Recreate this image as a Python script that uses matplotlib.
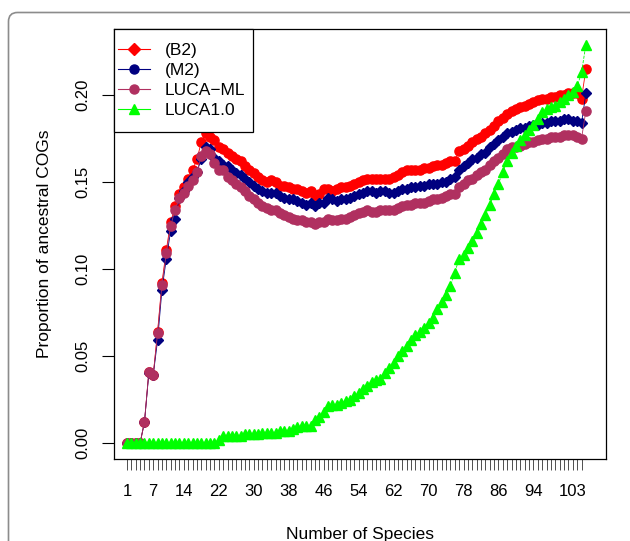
import numpy as np
import matplotlib.pyplot as plt
from matplotlib.lines import Line2D
from matplotlib.patches import FancyBboxPatch, Rectangle
from matplotlib.transforms import IdentityTransform

plt.rcParams['font.family'] = ['Liberation Sans', 'DejaVu Sans']

# --- data (species 1..106) ---
species = np.arange(1, 107)

b2 = [0.000, 0.000, 0.000, 0.000, 0.012, 0.041, 0.039, 0.064, 0.092, 0.111,
      0.127, 0.136, 0.143, 0.147, 0.152, 0.157, 0.163, 0.173, 0.178, 0.176,
      0.174, 0.170, 0.169, 0.167, 0.165, 0.163, 0.162, 0.159, 0.157, 0.155,
      0.153, 0.151, 0.150, 0.151, 0.150, 0.148, 0.148, 0.147, 0.146, 0.146,
      0.145, 0.144, 0.145, 0.142, 0.143, 0.146, 0.146, 0.145, 0.146, 0.147,
      0.147, 0.148, 0.149, 0.150, 0.151, 0.152, 0.152, 0.152, 0.152, 0.152,
      0.152, 0.153, 0.154, 0.156, 0.157, 0.157, 0.157, 0.157, 0.158, 0.158,
      0.159, 0.160, 0.160, 0.161, 0.162, 0.162, 0.168, 0.169, 0.171, 0.173,
      0.175, 0.176, 0.178, 0.180, 0.182, 0.185, 0.187, 0.189, 0.191, 0.192,
      0.193, 0.194, 0.195, 0.196, 0.197, 0.198, 0.198, 0.199, 0.199, 0.200,
      0.200, 0.201, 0.201, 0.201, 0.198, 0.215]

m2 = [0.000, 0.000, 0.000, 0.000, 0.012, 0.040, 0.039, 0.059, 0.088, 0.106,
      0.122, 0.129, 0.141, 0.145, 0.150, 0.153, 0.156, 0.163, 0.170, 0.169,
      0.164, 0.162, 0.160, 0.159, 0.157, 0.155, 0.154, 0.152, 0.150, 0.148,
      0.146, 0.145, 0.144, 0.144, 0.144, 0.142, 0.141, 0.140, 0.140, 0.139,
      0.138, 0.137, 0.138, 0.136, 0.138, 0.138, 0.141, 0.140, 0.139, 0.140,
      0.140, 0.141, 0.142, 0.143, 0.144, 0.145, 0.145, 0.144, 0.145, 0.145,
      0.144, 0.144, 0.145, 0.146, 0.146, 0.147, 0.147, 0.148, 0.148, 0.149,
      0.149, 0.149, 0.150, 0.150, 0.152, 0.153, 0.157, 0.159, 0.161, 0.163,
      0.164, 0.166, 0.167, 0.170, 0.172, 0.174, 0.176, 0.178, 0.179, 0.180,
      0.181, 0.181, 0.182, 0.183, 0.183, 0.184, 0.184, 0.185, 0.185, 0.185,
      0.186, 0.186, 0.185, 0.185, 0.184, 0.201]

luca_ml = [0.000, 0.000, 0.000, 0.000, 0.012, 0.041, 0.039, 0.063, 0.091, 0.109,
           0.125, 0.134, 0.141, 0.144, 0.148, 0.151, 0.156, 0.165, 0.168, 0.166,
           0.161, 0.157, 0.157, 0.153, 0.151, 0.149, 0.147, 0.145, 0.142, 0.140,
           0.138, 0.136, 0.135, 0.134, 0.134, 0.132, 0.131, 0.130, 0.129, 0.128,
           0.128, 0.127, 0.127, 0.126, 0.127, 0.127, 0.129, 0.128, 0.128, 0.129,
           0.129, 0.130, 0.131, 0.132, 0.133, 0.134, 0.133, 0.133, 0.134, 0.134,
           0.134, 0.134, 0.135, 0.136, 0.137, 0.137, 0.138, 0.138, 0.138, 0.139,
           0.140, 0.140, 0.141, 0.142, 0.143, 0.143, 0.147, 0.149, 0.151, 0.152,
           0.154, 0.156, 0.157, 0.160, 0.162, 0.164, 0.166, 0.169, 0.170, 0.170,
           0.171, 0.172, 0.173, 0.173, 0.174, 0.175, 0.175, 0.176, 0.176, 0.176,
           0.177, 0.177, 0.177, 0.176, 0.175, 0.191]

luca10 = [0.000, 0.000, 0.000, 0.000, 0.000, 0.000, 0.000, 0.000, 0.000, 0.000,
          0.000, 0.000, 0.000, 0.000, 0.000, 0.000, 0.000, 0.000, 0.000, 0.000,
          0.000, 0.002, 0.004, 0.004, 0.004, 0.004, 0.004, 0.005, 0.005, 0.005,
          0.005, 0.006, 0.006, 0.006, 0.006, 0.007, 0.007, 0.007, 0.008, 0.009,
          0.010, 0.010, 0.010, 0.013, 0.015, 0.018, 0.021, 0.022, 0.022, 0.023,
          0.024, 0.025, 0.027, 0.029, 0.031, 0.033, 0.035, 0.036, 0.037, 0.040,
          0.043, 0.046, 0.050, 0.053, 0.056, 0.059, 0.062, 0.064, 0.066, 0.069,
          0.072, 0.077, 0.081, 0.085, 0.090, 0.098, 0.106, 0.108, 0.112, 0.116,
          0.121, 0.126, 0.131, 0.137, 0.143, 0.149, 0.156, 0.162, 0.167, 0.171,
          0.174, 0.177, 0.180, 0.183, 0.186, 0.190, 0.192, 0.193, 0.194, 0.196,
          0.198, 0.200, 0.202, 0.205, 0.213, 0.229]

xtick_pos = np.arange(1, 106)
xtick_shown = [1, 7, 14, 22, 30, 38, 46, 54, 62, 70, 78, 86, 94, 103]
yticks = [0.00, 0.05, 0.10, 0.15, 0.20]

fig = plt.figure(figsize=(6.3, 5.41), dpi=100)

# rounded frame of the journal figure
frame = FancyBboxPatch((8.5, -30), 660, 541 - 12.5 + 30,
                       boxstyle='round,pad=0,rounding_size=9',
                       transform=IdentityTransform(), facecolor='none',
                       edgecolor='#8c8c8c', linewidth=1.2)
fig.add_artist(frame)

ax = fig.add_axes([114 / 630, 1 - 459 / 541, 492 / 630, 430 / 541])

ax.plot(species, b2, color='#FF0000', lw=0.6, marker='o', ms=6.6,
        mec='#FF0000', mfc='#FF0000')
ax.plot(species, m2, color='#000080', lw=0.6, marker='D', ms=5.2,
        mec='#000080', mfc='#000080')
ax.plot(species, luca_ml, color='#B03060', lw=0.6, marker='o', ms=6.6,
        mec='#B03060', mfc='#B03060')
ax.plot(species, luca10, color='#00FF00', lw=0.6, ls='--', marker='^', ms=7.2,
        mec='#00FF00', mfc='#00FF00')

ax.set_xlim(-1.97, 110.6)
ax.set_ylim(-0.0092, 0.238)

ax.set_xticks(xtick_pos)
ax.set_xticklabels([str(v) if v in xtick_shown else '' for v in xtick_pos])
ax.set_yticks(yticks)
ax.set_yticklabels(['%.2f' % v for v in yticks], rotation=90, va='center')

ax.tick_params(axis='x', direction='out', length=8, width=0.6, pad=10,
               labelsize=12, color='#333333')
ax.tick_params(axis='y', direction='out', length=9, width=0.8, pad=8,
               labelsize=12)
for s in ax.spines.values():
    s.set_linewidth(0.9)

ax.set_xlabel('Number of Species', fontsize=12.5, labelpad=20)
ax.set_ylabel('Proportion of ancestral COGs', fontsize=12.5, labelpad=17)

handles = [
    Line2D([], [], color='#FF0000', lw=0.8, marker='D', ms=6),
    Line2D([], [], color='#000080', lw=0.8, marker='o', ms=6.5),
    Line2D([], [], color='#B03060', lw=0.8, marker='o', ms=6.5),
    Line2D([], [], color='#00FF00', lw=0.8, marker='^', ms=7),
]
labels = ['(B2)', '(M2)', 'LUCA\u2212ML', 'LUCA1.0']
leg = fig.legend(handles, labels, loc='upper left',
                 bbox_to_anchor=(118 / 630, 1 - 43 / 541),
                 frameon=False, borderpad=0, borderaxespad=0,
                 handlelength=1.85, handletextpad=0.85,
                 labelspacing=0.27, fontsize=12.5)
fig.add_artist(Rectangle((114 / 630, 1 - 132 / 541), 139 / 630, 103 / 541,
                         transform=fig.transFigure, facecolor='white',
                         edgecolor='black', linewidth=0.9, zorder=2.5))
leg.set_zorder(3)

fig.savefig('out.png', dpi=100)
